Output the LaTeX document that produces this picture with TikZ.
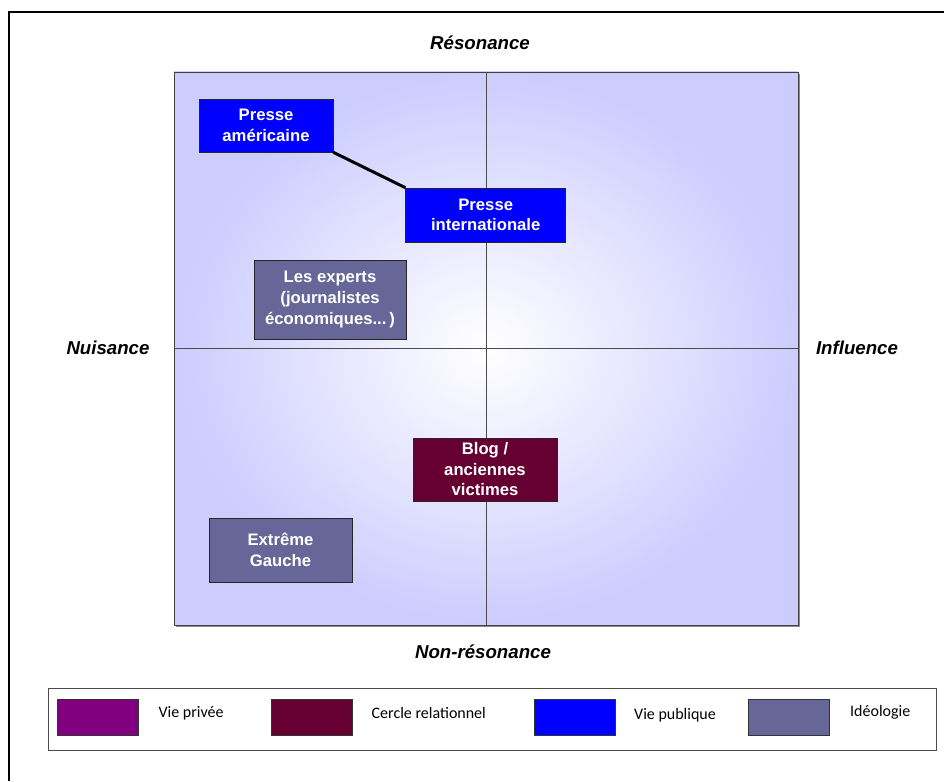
\documentclass[tikz,border=0pt]{standalone}
\usepackage{fontspec}
\setmainfont{Liberation Sans}
\newfontfamily\legendfont{Carlito}
\usetikzlibrary{positioning}

\definecolor{privee}{HTML}{800080}
\definecolor{cercle}{HTML}{660033}
\definecolor{publique}{HTML}{0000FF}
\definecolor{ideo}{HTML}{666699}
\definecolor{lavande}{HTML}{CCCCFF}

\tikzset{
    acteur/.style={draw=black!85, text=white, align=center, inner sep=0pt,
        font=\bfseries\fontsize{12.5}{15.4}\selectfont},
    axe/.style={font=\bfseries\itshape\fontsize{14}{16}\selectfont},
    pastille/.style={draw=black!80, minimum width=60.75pt, minimum height=27pt, inner sep=0pt},
    legende/.style={font=\legendfont\fontsize{12}{14}\selectfont, inner sep=0pt}
}

\begin{document}
\begin{tikzpicture}[x=0.75pt, y=-0.75pt]
    \useasboundingbox (0, 0) rectangle (944, 781);

    % page frame (top and left edges only)
    \draw[line width=1.5pt] (9, 781) -- (9, 12) -- (944, 12);

    % the plan with its four quadrants
    \fill[black!45] (176, 74) rectangle (800, 627);
    \node[draw=black!75, shading=radial, inner color=white, outer color=lavande,
        minimum width=468pt, minimum height=414.75pt, inner sep=0pt] (plan) at (486, 348.5) {};
    \draw[black!70] (plan.north) -- (plan.south)
        (plan.west) -- (plan.east);

    \draw node[axe] (res) at (480, 43) {Résonance}
        node[axe] (nonres) at (483, 652) {Non-résonance}
        node[axe] (nuis) at (108, 348) {Nuisance}
        node[axe] (infl) at (857, 348) {Influence};

    % actors
    \node[acteur, fill=publique, minimum width=100.5pt, minimum height=39.75pt]
        (pamer) at (266, 125.5) {Presse\\américaine};
    \node[acteur, fill=publique, minimum width=120pt, minimum height=40.5pt]
        (pinter) at (485.7, 215) {Presse\\internationale};
    \node[acteur, fill=ideo, minimum width=114pt, minimum height=59.25pt]
        (experts) at (330, 299.5) {Les experts\\(journalistes\\économiques...\,)};
    \node[acteur, fill=cercle, minimum width=108pt, minimum height=47.25pt]
        (blog) at (485, 469.5) {Blog /\\anciennes\\victimes};
    \node[acteur, fill=ideo, minimum width=107.25pt, minimum height=48pt]
        (extreme) at (280.5, 550) {Extrême\\Gauche};

    \draw[line width=2.25pt] (pamer.south east) -- (pinter.north west);

    % legend
    \draw[black!70] (48, 688) rectangle (936, 750);
    \node[pastille, fill=privee] (vprivee) at (97.5, 717) {};
    \node[pastille, fill=cercle] (vcercle) at (312, 717) {};
    \node[pastille, fill=publique] (vpublique) at (574.5, 717) {};
    \node[pastille, fill=ideo] (videologie) at (788.5, 717) {};

    \node[legende, right=15pt of vprivee, yshift=3pt] (tprivee) {Vie privée};
    \node[legende, right=14pt of vcercle, yshift=3pt] (tcercle) {Cercle relationnel};
    \node[legende, right=14pt of vpublique, yshift=1pt] (tpublique) {Vie publique};
    \node[legende, right=15.5pt of videologie, yshift=3.5pt] (tideologie) {Idéologie};
\end{tikzpicture}
\end{document}
